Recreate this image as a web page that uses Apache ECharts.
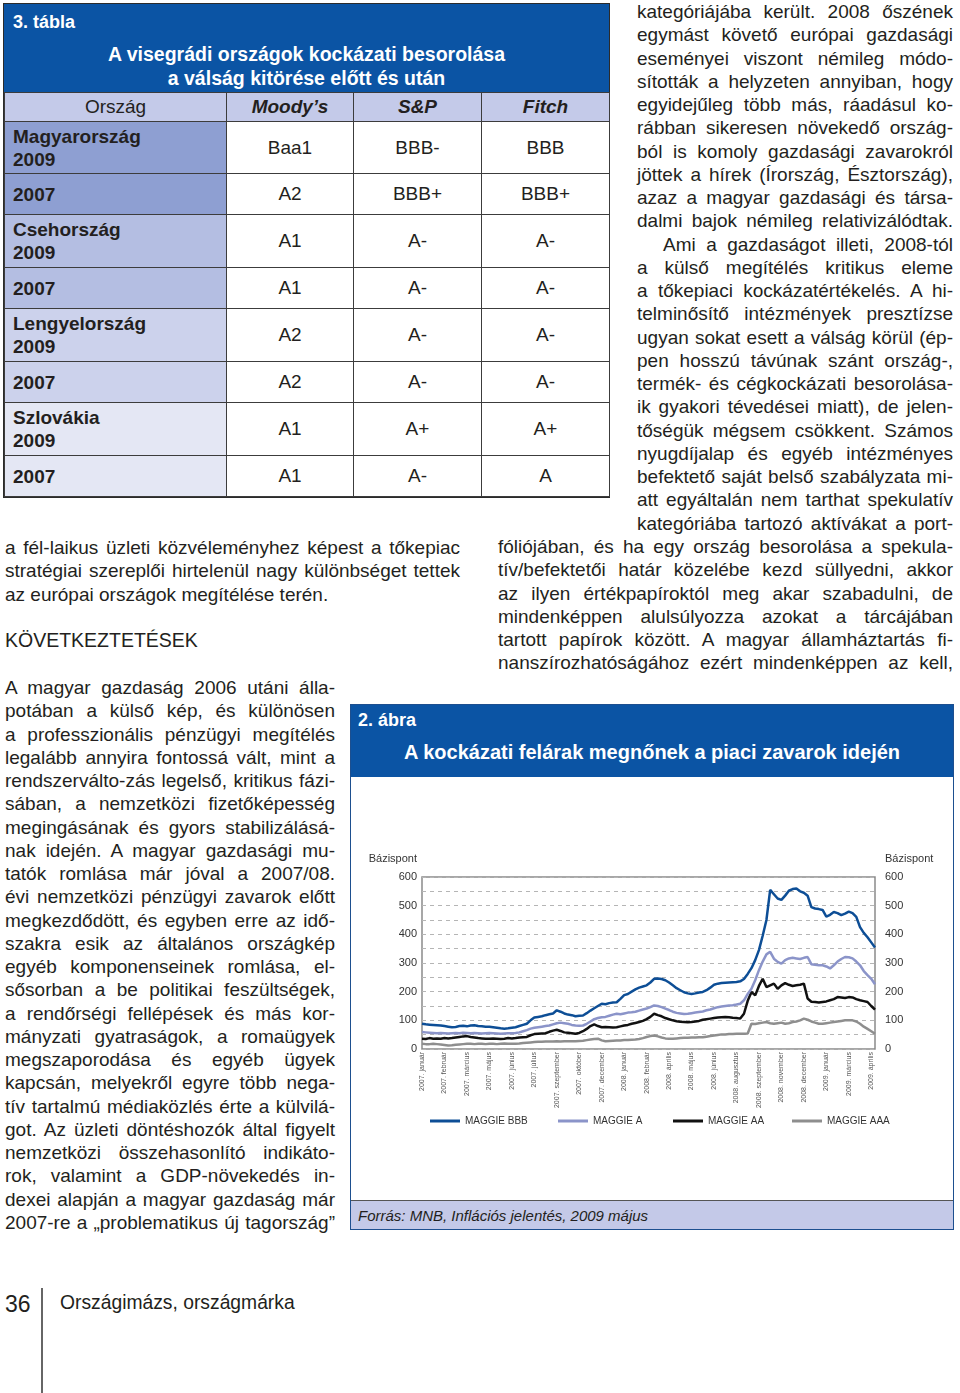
<!DOCTYPE html>
<html>
<head>
<meta charset="utf-8">
<script src="https://cdn.jsdelivr.net/npm/echarts@6/dist/echarts.min.js"></script>
<style>
body{margin:0;width:960px;height:1393px;position:relative;background:#fff;font-family:"Liberation Sans",Arial,sans-serif;color:#231f20;overflow:hidden}
.abs{position:absolute}
.txt{position:absolute;font-size:19px;line-height:23.25px}
.txt div{text-align:justify;text-align-last:justify;white-space:nowrap}
.txt div.end{text-align-last:left}
.txt div.ind{padding-left:26px}
.cond{font-family:"Liberation Sans Narrow","Liberation Sans",Arial,sans-serif;font-weight:bold}

/* 3. tábla */
#tbl{left:3px;top:3px;width:605px;border:1px solid #2b2b2b;}
#tbl .head{background:#0b54a4;color:#fff;height:88px;position:relative}
#tbl table{border-collapse:collapse;width:605px;table-layout:fixed;font-size:19px}
#tbl td{border:1px solid #3c3c3c;text-align:center;padding:0}
#tbl td.c{text-align:left;padding-left:8px;font-weight:bold;line-height:23px}
#tbl tr.th td{background:#c4cae9}
#tbl tr.th td.i{font-weight:bold;font-style:italic}
.hu{background:#8e9fd2}
.cz{background:#b4bee2}
.pl{background:#ccd2ec}
.sk{background:#e4e7f4}

/* 2. ábra */
#fig{left:350px;top:704px;width:602px;height:524px;border:1px solid #1d4f8f}
#fig .head{position:absolute;left:0;top:0;width:602px;height:72px;background:#0b54a4;color:#fff}
#chart{position:absolute;left:1px;top:72px;width:601px;height:423px}
#fig .src{position:absolute;left:0;top:495px;width:602px;height:29px;background:#c4c9e8;border-top:1px solid #555;font-style:italic;font-size:15px;line-height:29px;padding-left:7px;box-sizing:border-box}
</style>
</head>
<body>

<div id="tbl" class="abs">
  <div class="head">
    <div class="abs" style="left:9px;top:8px;font-size:18px;font-weight:bold">3. tábla</div>
    <div class="abs cond" style="left:0;top:38px;width:605px;text-align:center;font-size:19.5px;line-height:24px">A visegrádi országok kockázati besorolása<br>a válság kitörése előtt és után</div>
  </div>
  <table>
    <colgroup><col style="width:222px"><col style="width:127px"><col style="width:128px"><col style="width:128px"></colgroup>
    <tr class="th" style="height:29px"><td>Ország</td><td class="i">Moody’s</td><td class="i">S&amp;P</td><td class="i">Fitch</td></tr>
    <tr style="height:52px"><td class="c hu">Magyarország<br>2009</td><td>Baa1</td><td>BBB-</td><td>BBB</td></tr>
    <tr style="height:41px"><td class="c hu">2007</td><td>A2</td><td>BBB+</td><td>BBB+</td></tr>
    <tr style="height:53px"><td class="c cz">Csehország<br>2009</td><td>A1</td><td>A-</td><td>A-</td></tr>
    <tr style="height:41px"><td class="c cz">2007</td><td>A1</td><td>A-</td><td>A-</td></tr>
    <tr style="height:53px"><td class="c pl">Lengyelország<br>2009</td><td>A2</td><td>A-</td><td>A-</td></tr>
    <tr style="height:41px"><td class="c pl">2007</td><td>A2</td><td>A-</td><td>A-</td></tr>
    <tr style="height:53px"><td class="c sk">Szlovákia<br>2009</td><td>A1</td><td>A+</td><td>A+</td></tr>
    <tr style="height:41px"><td class="c sk">2007</td><td>A1</td><td>A-</td><td>A</td></tr>
  </table>
</div>

<!-- jobb hasáb -->
<div class="txt" style="left:637px;top:0;width:316px">
  <div>kategóriájába került. 2008 őszének</div>
  <div>egymást követő európai gazdasági</div>
  <div>eseményei viszont némileg módo-</div>
  <div>sították a helyzeten annyiban, hogy</div>
  <div>egyidejűleg több más, ráadásul ko-</div>
  <div>rábban sikeresen növekedő ország-</div>
  <div>ból is komoly gazdasági zavarokról</div>
  <div>jöttek a hírek (Írország, Észtország),</div>
  <div>azaz a magyar gazdasági és társa-</div>
  <div>dalmi bajok némileg relativizálódtak.</div>
  <div class="ind">Ami a gazdaságot illeti, 2008-tól</div>
  <div>a külső megítélés kritikus eleme</div>
  <div>a tőkepiaci kockázatértékelés. A hi-</div>
  <div>telminősítő intézmények presztízse</div>
  <div>ugyan sokat esett a válság körül (ép-</div>
  <div>pen hosszú távúnak szánt ország-,</div>
  <div>termék- és cégkockázati besorolása-</div>
  <div>ik gyakori tévedései miatt), de jelen-</div>
  <div>tőségük mégsem csökkent. Számos</div>
  <div>nyugdíjalap és egyéb intézményes</div>
  <div>befektető saját belső szabályzata mi-</div>
  <div>att egyáltalán nem tarthat spekulatív</div>
  <div>kategóriába tartozó aktívákat a port-</div>
</div>
<div class="txt" style="left:498px;top:535px;width:455px">
  <div>fóliójában, és ha egy ország  besorolása a spekula-</div>
  <div>tív/befektetői határ közelébe kezd süllyedni, akkor</div>
  <div>az ilyen értékpapíroktól meg akar szabadulni, de</div>
  <div>mindenképpen alulsúlyozza azokat a tárcájában</div>
  <div>tartott papírok között. A magyar államháztartás fi-</div>
  <div>nanszírozhatóságához ezért mindenképpen az kell,</div>
</div>

<!-- bal hasáb -->
<div class="txt" style="left:5px;top:536px;width:455px">
  <div>a fél-laikus üzleti közvéleményhez képest a tőkepiac</div>
  <div>stratégiai szereplői hirtelenül nagy különbséget tettek</div>
  <div class="end">az európai országok megítélése terén.</div>
</div>
<div class="abs" style="left:5px;top:628px;font-size:19.5px;line-height:24px">KÖVETKEZTETÉSEK</div>
<div class="txt" style="left:5px;top:676px;width:330px">
  <div>A magyar gazdaság 2006 utáni álla-</div>
  <div>potában a külső kép, és különösen</div>
  <div>a professzionális pénzügyi megítélés</div>
  <div>legalább annyira fontossá vált, mint a</div>
  <div>rendszerválto-zás legelső, kritikus fázi-</div>
  <div>sában, a nemzetközi fizetőképesség</div>
  <div>megingásának és gyors stabilizálásá-</div>
  <div>nak idején. A magyar gazdasági mu-</div>
  <div>tatók romlása már jóval a 2007/08.</div>
  <div>évi nemzetközi pénzügyi zavarok előtt</div>
  <div>megkezdődött, és egyben erre az idő-</div>
  <div>szakra esik az általános országkép</div>
  <div>egyéb komponenseinek romlása, el-</div>
  <div>sősorban a be politikai feszültségek,</div>
  <div>a rendőrségi fellépések és más kor-</div>
  <div>mányzati gyatraságok, a romaügyek</div>
  <div>megszaporodása és egyéb ügyek</div>
  <div>kapcsán, melyekről egyre több nega-</div>
  <div>tív tartalmú médiaközlés érte a külvilá-</div>
  <div>got. Az üzleti döntéshozók által figyelt</div>
  <div>nemzetközi összehasonlító indikáto-</div>
  <div>rok, valamint a GDP-növekedés in-</div>
  <div>dexei alapján a magyar gazdaság már</div>
  <div>2007-re a „problematikus új tagország”</div>
</div>

<!-- 2. ábra -->
<div id="fig" class="abs">
  <div class="head">
    <div class="abs" style="left:7px;top:5px;font-size:18px;font-weight:bold">2. ábra</div>
    <div class="abs cond" style="left:0;top:36px;width:602px;text-align:center;font-size:20px">A kockázati felárak megnőnek a piaci zavarok idején</div>
  </div>
  <div id="chart"></div>
  <div class="src">Forrás: MNB, Inflációs jelentés, 2009 május</div>
</div>

<!-- lábléc -->
<div class="abs" style="left:5px;top:1291px;font-size:23px">36</div>
<div class="abs" style="left:41px;top:1288px;width:2px;height:105px;background:#666"></div>
<div class="abs" style="left:60px;top:1292px;font-size:19.3px">Országimázs, országmárka</div>

<script>
// tengelyfeliratok (minden 6. pont kap feliratot)
var tickLabels = ['2007. január', '2007. február', '2007. március', '2007. május', '2007. június',
  '2007. július', '2007. szeptember', '2007. október', '2007. december', '2008. január',
  '2008. február', '2008. április', '2008. május', '2008. június', '2008. augusztus',
  '2008. szeptember', '2008. november', '2008. december', '2009. január', '2009. március',
  '2009. április'];
var labelStep = 6;

// felárak, bázispont
var maggieBBB = [88, 86, 85, 84, 83, 82, 80, 78,
  76, 77, 80, 81, 79, 82, 83, 80,
  79, 78, 78, 76, 74, 72, 71, 72,
  74, 76, 80, 84, 88, 100, 110, 112,
  114, 118, 121, 124, 135, 130, 124, 120,
  118, 114, 116, 117, 125, 134, 142, 150,
  158, 156, 160, 162, 163, 175, 188, 192,
  200, 208, 214, 218, 222, 232, 245, 246,
  244, 240, 232, 222, 212, 205, 198, 194,
  192, 194, 197, 199, 205, 214, 224, 228,
  230, 231, 232, 233, 234, 236, 244, 262,
  282, 310, 345, 395, 450, 555, 540, 525,
  520, 535, 552, 558, 560, 550, 545, 535,
  495, 490, 488, 485, 462, 468, 478, 474,
  467, 472, 479, 474, 461, 425, 405, 390, 372, 354];
var maggieA = [59, 58, 57, 56, 55, 56, 55, 54,
  55, 56, 55, 57, 56, 55, 56, 55,
  54, 55, 56, 55, 54, 53, 54, 55,
  55, 56, 58, 62, 66, 71, 74, 76,
  78, 80, 82, 86, 90, 92, 90, 88,
  84, 82, 81, 82, 88, 96, 104, 108,
  111, 112, 116, 120, 123, 121, 124, 127,
  128, 130, 134, 138, 141, 146, 152, 150,
  146, 141, 136, 130, 126, 124, 122, 123,
  125, 127, 129, 131, 135, 138, 142, 146,
  148, 150, 152, 153, 155, 158, 170, 192,
  210, 240, 275, 305, 330, 339, 315, 304,
  298, 310, 316, 318, 316, 314, 318, 321,
  296, 294, 292, 292, 288, 281, 292, 305,
  314, 321, 320, 316, 305, 292, 272, 258, 245, 226];
var maggieAA = [36, 35, 38, 36, 37, 36, 38, 37,
  38, 40, 42, 44, 45, 42, 40, 38,
  37, 36, 36, 37, 36, 35, 36, 38,
  37, 38, 40, 41, 42, 48, 52, 53,
  54, 55, 60, 64, 67, 63, 58, 57,
  55, 53, 56, 62, 70, 80, 86, 80,
  76, 77, 76, 75, 76, 79, 82, 84,
  88, 91, 94, 98, 104, 112, 123, 118,
  114, 108, 104, 100, 97, 95, 94, 93,
  94, 96, 98, 102, 104, 106, 108, 110,
  111, 112, 111, 109, 108, 106, 123, 168,
  199, 187, 220, 245, 216, 222, 228, 210,
  222, 230, 224, 220, 222, 224, 228, 176,
  165, 164, 162, 164, 166, 170, 174, 181,
  180, 178, 181, 180, 174, 170, 167, 164, 150, 137];
var maggieAAA = [18, 17, 17, 18, 17, 16, 14, 12,
  13, 15, 16, 17, 18, 18, 17, 18,
  18, 17, 18, 18, 17, 18, 19, 18,
  18, 18, 19, 21, 22, 23, 24, 25,
  25, 26, 26, 26, 27, 26, 27, 27,
  27, 27, 28, 29, 31, 33, 35, 36,
  30, 27, 28, 29, 30, 30, 31, 31,
  32, 33, 35, 38, 42, 45, 47, 44,
  40, 37, 36, 36, 37, 38, 39, 39,
  40, 40, 41, 41, 43, 45, 47, 49,
  51, 51, 52, 52, 53, 53, 53, 54,
  88, 87, 90, 92, 94, 90, 88, 90,
  92, 88, 90, 94, 96, 100, 106, 102,
  96, 92, 88, 88, 90, 92, 94, 96,
  98, 100, 100, 100, 96, 88, 78, 70, 62, 53];

var seriesNames = ['MAGGIE BBB', 'MAGGIE A', 'MAGGIE AA', 'MAGGIE AAA'];
var seriesColors = ['#0d4e96', '#8b94c9', '#111111', '#8e8e8e'];
var points = maggieBBB.map(function (v, i) { return i; });

var Chart = echarts.init(document.getElementById('chart'));

function makeLegend(name, left) {
  return {
    data: [name],
    left: left,
    top: 334,
    icon: 'rect',
    itemWidth: 30,
    itemHeight: 3,
    itemGap: 5,
    textStyle: { fontSize: 10, color: '#333' }
  };
}

function yAxisOf(side) {
  var left = side === 'left';
  return {
    type: 'value',
    position: side,
    min: 0,
    max: 600,
    interval: 100,
    name: 'Bázispont',
    nameLocation: 'end',
    nameGap: 13,
    nameTextStyle: {
      fontSize: 11,
      color: '#333',
      align: left ? 'right' : 'left',
      padding: left ? [0, 5, 0, 0] : [0, 0, 0, 10]
    },
    axisLine: { show: false },
    axisTick: { show: false },
    axisLabel: { fontSize: 11, color: '#333', margin: left ? 5 : 10 },
    splitLine: { show: left, lineStyle: { color: '#b5b5b5', type: [4, 4] } },
    minorTick: { show: false, splitNumber: 2 },
    minorSplitLine: { show: left, lineStyle: { color: '#b5b5b5', type: [4, 4] } }
  };
}

var option = {
  animation: false,
  textStyle: { fontFamily: 'Liberation Sans, Arial, sans-serif' },
  legend: [
    makeLegend(seriesNames[0], 73),
    makeLegend(seriesNames[1], 201),
    makeLegend(seriesNames[2], 316),
    makeLegend(seriesNames[3], 435)
  ],
  grid: {
    left: 70,
    right: 78,
    top: 100,
    bottom: 151,
    show: true,
    borderColor: '#8a8a8a',
    borderWidth: 1.5
  },
  xAxis: {
    type: 'category',
    boundaryGap: false,
    data: points,
    axisLine: { show: false },
    axisTick: { show: false },
    splitLine: { show: false },
    axisLabel: {
      interval: labelStep - 1,
      rotate: 90,
      fontSize: 7,
      color: '#555',
      margin: 3,
      formatter: function (v, i) {
        return tickLabels[i / labelStep] || '';
      }
    }
  },
  yAxis: [yAxisOf('left'), yAxisOf('right')],
  series: [maggieBBB, maggieA, maggieAA, maggieAAA].map(function (d, k) {
    return {
      name: seriesNames[k],
      type: 'line',
      data: d,
      showSymbol: false,
      color: seriesColors[k],
      lineStyle: { width: 2.5, color: seriesColors[k] },
      z: 10 - k
    };
  })
};

Chart.setOption(option);
</script>
</body>
</html>
